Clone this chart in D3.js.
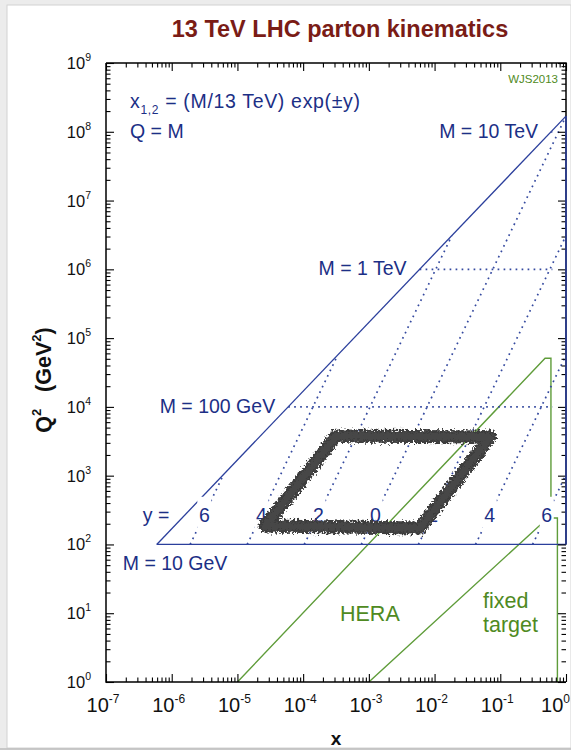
<!DOCTYPE html>
<html>
<head>
<meta charset="utf-8">
<script src="https://cdn.jsdelivr.net/npm/d3@7"></script>
<style>
  html, body { margin: 0; padding: 0; background: #ececec; }
  svg { display: block; font-family: "Liberation Sans", Arial, Helvetica, sans-serif; }
</style>
</head>
<body>
<svg id="chart" width="571" height="750"></svg>
<script>
// ---- kinematics ----
const sqrtS = 13000;                       // collider energy in GeV
const s = sqrtS * sqrtS;

// ---- axis ticks ----
const xTickValues = [1e-7, 1e-6, 1e-5, 1e-4, 1e-3, 1e-2, 1e-1, 1e0];
const xTickExponents = ["-7", "-6", "-5", "-4", "-3", "-2", "-1", "0"];
const yTickValues = [1e0, 1e1, 1e2, 1e3, 1e4, 1e5, 1e6, 1e7, 1e8, 1e9];
const yTickExponents = ["0", "1", "2", "3", "4", "5", "6", "7", "8", "9"];

// ---- invariant masses (GeV) and rapidities ----
const massValues = [10, 100, 1000, 10000];
const massLabels = ["M = 10 GeV", "M = 100 GeV", "M = 1 TeV", "M = 10 TeV"];
const rapidityValues = [6, 4, 2, 0, -2, -4, -6];
const rapidityLabels = ["6", "4", "2", "0", "2", "4", "6"];
const rapidityLabelQ2 = 270;               // Q^2 at which the rapidity labels sit
const massLineEndX = 0.62;                 // right end of the dotted constant-M lines

// ---- measured regions, [x, Q^2] ----
const heraBoundary = [[1e-5, 1], [0.48, 5.1e4], [0.59, 5.1e4], [0.59, 490]];
const fixedTargetBoundary = [[1e-3, 1], [0.40, 190], [0.64, 242], [0.74, 242], [0.74, 1]];
const lhcRegion = [[2.63e-5, 185], [3.17e-4, 3770], [0.070, 3640], [6.0e-3, 173]];

// ---- layout ----
const W = 571, H = 750;
const plot = { left: 106, right: 566, top: 63, bottom: 682 };

const blueText = "#1c2f86";
const blueLine = "#2b3f9c";
const blueDot = "#34499f";
const green = "#5f9c3a";
const greenText = "#4f8a22";

const svg = d3.select("#chart");

// page card
svg.append("rect").attr("x", 0).attr("y", 0).attr("width", W).attr("height", H).attr("fill", "#ececec");
svg.append("rect").attr("x", 7).attr("y", 5).attr("width", W - 7).attr("height", 743)
  .attr("fill", "#fff").attr("stroke", "#d2d2d2").attr("stroke-width", 1);

const x = d3.scaleLog().domain([1e-7, 1]).range([plot.left, plot.right]);
const y = d3.scaleLog().domain([1, 1e9]).range([plot.bottom, plot.top]);

const defs = svg.append("defs");
defs.append("clipPath").attr("id", "plotClip").append("rect")
  .attr("x", plot.left).attr("y", plot.top)
  .attr("width", plot.right - plot.left).attr("height", plot.bottom - plot.top);

// rough pen texture for the hand-drawn outline
function roughFilter(id, seed, freq, scale) {
  const f = defs.append("filter").attr("id", id)
    .attr("x", "-10%").attr("y", "-20%").attr("width", "120%").attr("height", "140%");
  f.append("feTurbulence").attr("type", "fractalNoise").attr("baseFrequency", freq)
    .attr("numOctaves", 2).attr("seed", seed).attr("result", "noise");
  f.append("feDisplacementMap").attr("in", "SourceGraphic").attr("in2", "noise")
    .attr("scale", scale).attr("xChannelSelector", "R").attr("yChannelSelector", "G");
}
roughFilter("rough1", 7, 0.45, 9);
roughFilter("rough2", 21, 0.6, 10);

const line = d3.line().x(d => x(d[0])).y(d => y(d[1]));
const g = svg.append("g").attr("clip-path", "url(#plotClip)");

// ---- HERA and fixed-target boundaries ----
[heraBoundary, fixedTargetBoundary].forEach(pts => {
  g.append("path").attr("d", line(pts)).attr("fill", "none")
    .attr("stroke", green).attr("stroke-width", 1.4);
});

// ---- LHC kinematic boundaries (solid) ----
const Q2min = massValues[0] * massValues[0];
g.append("path").attr("d", line([[Q2min / s, Q2min], [1, s]]))
  .attr("fill", "none").attr("stroke", blueLine).attr("stroke-width", 1.3);
g.append("path").attr("d", line([[Q2min / s, Q2min], [1, Q2min]]))
  .attr("fill", "none").attr("stroke", blueLine).attr("stroke-width", 1.3);

// ---- dotted constant-M lines ----
massValues.slice(1).forEach(M => {
  const q2 = M * M;
  g.append("path").attr("d", line([[q2 / s, q2], [massLineEndX, q2]]))
    .attr("fill", "none").attr("stroke", blueDot).attr("stroke-width", 1.7)
    .attr("stroke-dasharray", "1.7 4.3");
});

// ---- dotted constant-rapidity lines: x = (M/sqrt s) exp(-y), Q = M ----
rapidityValues.forEach(yr => {
  const x0 = (massValues[0] / sqrtS) * Math.exp(-yr);
  const x1 = Math.min(1, Math.exp(-2 * yr));
  const q1 = x1 * sqrtS * Math.exp(yr);
  g.append("path").attr("d", line([[x0, Q2min], [x1, q1 * q1]]))
    .attr("fill", "none").attr("stroke", blueDot).attr("stroke-width", 1.7)
    .attr("stroke-dasharray", "1.7 4.3");
});

// ---- rapidity labels ----
const qLab = Math.sqrt(rapidityLabelQ2);
const yLabPix = y(rapidityLabelQ2);
rapidityValues.forEach((yr, i) => {
  const xl = x((qLab / sqrtS) * Math.exp(-yr));
  svg.append("rect").attr("x", xl - 7).attr("y", yLabPix - 18)
    .attr("width", 14).attr("height", 36).attr("fill", "#fff");
  svg.append("text").attr("x", xl).attr("y", yLabPix + 7)
    .attr("text-anchor", "middle").attr("font-size", 19.5).attr("fill", blueText)
    .text(rapidityLabels[i]);
});
svg.append("text")
  .attr("x", x((qLab / sqrtS) * Math.exp(-rapidityValues[0])) - 35)
  .attr("y", yLabPix + 7).attr("text-anchor", "end")
  .attr("font-size", 19.5).attr("fill", blueText).text("y =");

// ---- LHC measured region (hand-drawn outline, over the labels) ----
const lhcPath = line(lhcRegion) + "Z";
svg.append("path").attr("d", lhcPath)
  .attr("fill", "none").attr("stroke", "#3d3d3d").attr("stroke-width", 13)
  .attr("stroke-linejoin", "round").attr("filter", "url(#rough1)");
svg.append("path").attr("d", lhcPath)
  .attr("fill", "none").attr("stroke", "#474747").attr("stroke-width", 8)
  .attr("stroke-linejoin", "round").attr("filter", "url(#rough2)");

// ---- mass labels ----
massValues.forEach((M, i) => {
  const q2 = M * M;
  const xd = x(q2 / s), yd = y(q2);
  const t = svg.append("text").attr("font-size", 19.5).attr("fill", blueText).text(massLabels[i]);
  if (i === 0) t.attr("x", xd - 34).attr("y", yd + 26);
  else t.attr("x", xd - 13).attr("y", yd + 6).attr("text-anchor", "end");
});

// ---- formula ----
const f1 = svg.append("text").attr("x", 130).attr("y", 108)
  .attr("font-size", 19.5).attr("fill", blueText)
  .attr("textLength", 230).attr("lengthAdjust", "spacing");
f1.append("tspan").text("x");
f1.append("tspan").attr("font-size", 12).attr("dy", 6).text("1,2");
f1.append("tspan").attr("dy", -6).text(" = (M/13 TeV) exp(\u00b1y)");
svg.append("text").attr("x", 130).attr("y", 138)
  .attr("font-size", 19.5).attr("fill", blueText).text("Q = M");

// ---- region names ----
svg.append("text").attr("x", 340).attr("y", 621).attr("font-size", 21.5)
  .attr("fill", greenText).text("HERA");
svg.append("text").attr("x", 483).attr("y", 608).attr("font-size", 21.5)
  .attr("fill", greenText).text("fixed");
svg.append("text").attr("x", 483).attr("y", 632).attr("font-size", 21.5)
  .attr("fill", greenText).text("target");
svg.append("text").attr("x", 558).attr("y", 83).attr("text-anchor", "end")
  .attr("font-size", 11.5).attr("fill", greenText).text("WJS2013");

// ---- frame and ticks ----
const minorX = x.ticks().filter(v => !xTickValues.includes(v));
const minorY = y.ticks().filter(v => !yTickValues.includes(v));
const axes = svg.append("g").attr("class", "axes");
function addAxis(axisFn, scale, values, size, transform) {
  const a = axes.append("g").attr("transform", transform)
    .call(axisFn(scale).tickValues(values).tickSize(size).tickFormat(""));
  a.select(".domain").remove();
  a.selectAll(".tick line").attr("stroke", "#000").attr("stroke-width", 1.1);
}
addAxis(d3.axisBottom, x, xTickValues, -8, `translate(0,${plot.bottom})`);
addAxis(d3.axisBottom, x, minorX, -4.5, `translate(0,${plot.bottom})`);
addAxis(d3.axisTop, x, xTickValues, -8, `translate(0,${plot.top})`);
addAxis(d3.axisTop, x, minorX, -4.5, `translate(0,${plot.top})`);
addAxis(d3.axisLeft, y, yTickValues, -8, `translate(${plot.left},0)`);
addAxis(d3.axisLeft, y, minorY, -4.5, `translate(${plot.left},0)`);
addAxis(d3.axisRight, y, yTickValues, -8, `translate(${plot.right},0)`);
addAxis(d3.axisRight, y, minorY, -4.5, `translate(${plot.right},0)`);

axes.append("path")
  .attr("d", `M${plot.left},${plot.top}V${plot.bottom}H${plot.right}`)
  .attr("fill", "none").attr("stroke", "#000").attr("stroke-width", 1.5);
axes.append("path")
  .attr("d", `M${plot.left},${plot.top}H${plot.right}V${y(Q2min)}`)
  .attr("fill", "none").attr("stroke", "#000").attr("stroke-width", 1.5);
// the x = 1 kinematic limit runs along the right frame
svg.append("path").attr("d", line([[1, Q2min], [1, s]]))
  .attr("fill", "none").attr("stroke", blueLine).attr("stroke-width", 1.6);

// ---- tick labels ----
xTickValues.forEach((v, i) => {
  const last = i === xTickValues.length - 1;
  const t = svg.append("text").attr("x", last ? 570 : x(v) - 3).attr("y", 712)
    .attr("text-anchor", last ? "end" : "middle").attr("font-size", 20).attr("fill", "#111");
  t.append("tspan").text("10");
  t.append("tspan").attr("font-size", 12).attr("dy", -9).text(xTickExponents[i]);
});
yTickValues.forEach((v, i) => {
  const t = svg.append("text").attr("x", 91).attr("y", y(v) + 6)
    .attr("text-anchor", "end").attr("font-size", 16.5).attr("fill", "#111");
  t.append("tspan").text("10");
  t.append("tspan").attr("font-size", 10.5).attr("dy", -8).text(yTickExponents[i]);
});

// ---- axis titles ----
svg.append("text").attr("x", 336).attr("y", 745).attr("text-anchor", "middle")
  .attr("font-size", 19).attr("font-weight", "bold").attr("fill", "#111").text("x");
const yt = svg.append("text").attr("transform", "translate(51,380) rotate(-90)")
  .attr("text-anchor", "middle").attr("font-size", 21.5).attr("font-weight", "bold")
  .attr("fill", "#111");
yt.append("tspan").text("Q");
yt.append("tspan").attr("font-size", 13).attr("dy", -10).text("2");
yt.append("tspan").attr("dy", 10).text("\u2002 (GeV");
yt.append("tspan").attr("font-size", 13).attr("dy", -10).text("2");
yt.append("tspan").attr("dy", 10).text(")");

// ---- title ----
svg.append("text").attr("x", 340).attr("y", 37).attr("text-anchor", "middle")
  .attr("font-size", 23.5).attr("font-weight", "bold").attr("fill", "#7a1c16")
  .text("13 TeV LHC parton kinematics");

// bottom edge of the page card
svg.append("line").attr("x1", 0).attr("x2", W).attr("y1", 749).attr("y2", 749)
  .attr("stroke", "#bdbdbd").attr("stroke-width", 1.5);
</script>
</body>
</html>
